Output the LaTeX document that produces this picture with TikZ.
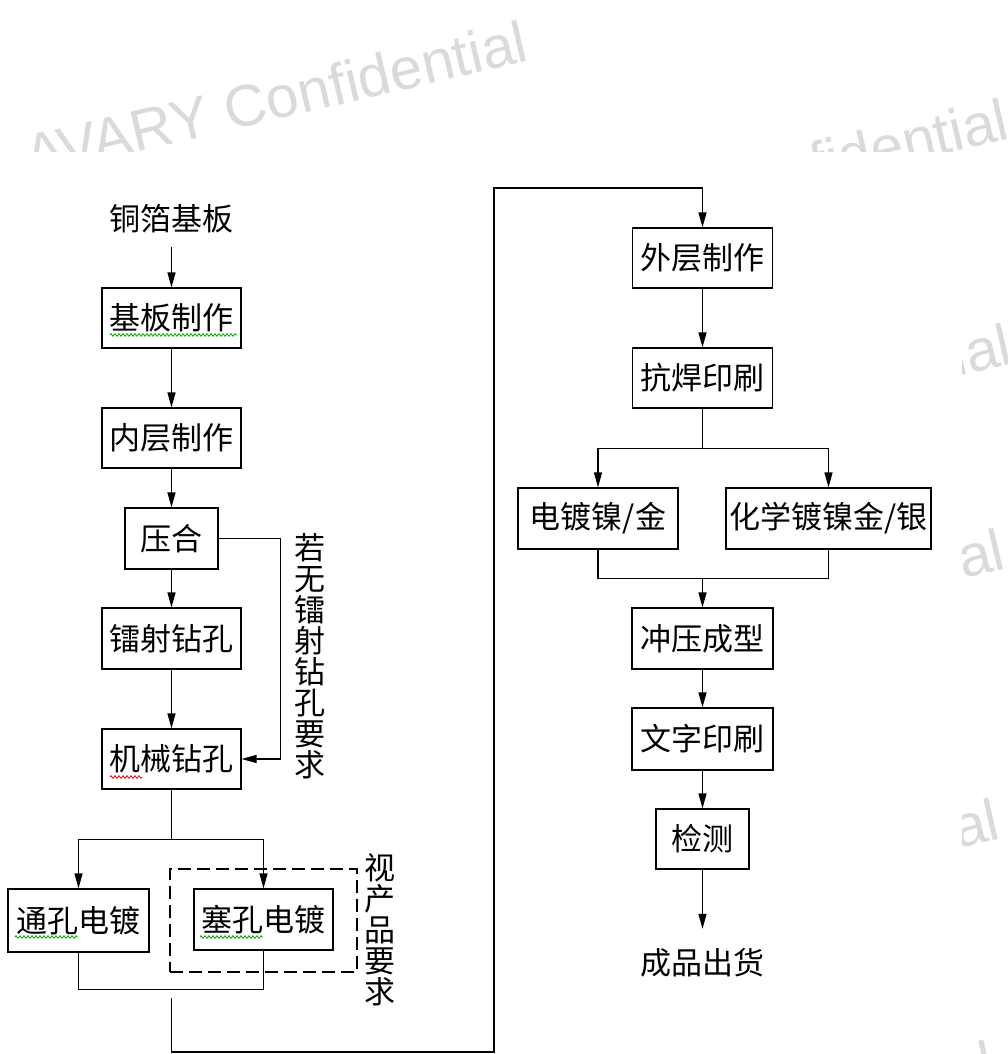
\documentclass[tikz,border=0pt]{standalone}
\usepackage{fontspec}
\newfontfamily\cjk{Noto Sans CJK SC}
\newfontfamily\wmfont{Liberation Sans}
\newcommand{\cjkfs}{\cjk\fontsize{31}{31}\selectfont}
\usetikzlibrary{arrows.meta,decorations.pathmorphing}
\definecolor{wmgray}{RGB}{218,218,218}
\definecolor{spellgreen}{RGB}{0,160,0}
\definecolor{spellred}{RGB}{230,0,0}
\begin{document}
\begin{tikzpicture}[x=1pt,y=-1pt,
  box/.style={draw, line width=1.2pt, inner sep=0pt, minimum width=139pt, minimum height=60pt, font=\cjkfs},
  arr/.style={line width=1.2pt, -{Triangle[length=15pt,width=8pt]}},
  ln/.style={line width=1.2pt},
  lbl/.style={font=\cjkfs, inner sep=0pt},
  vlbl/.style={font=\cjkfs, inner sep=0pt, align=center},
  wm/.style={font=\wmfont\fontsize{58.5}{58.5}\selectfont, text=wmgray, rotate=13.1, anchor=base west, inner sep=0pt},
  squig/.style={decorate, decoration={zigzag, segment length=4pt, amplitude=1.3pt}, line width=0.8pt}
]
\useasboundingbox (0,0) rectangle (1007,1054);
\fill[white] (0,0) rectangle (1007,1054);
% watermark
\node[wm] (w1) at (30,177) {AVARY Confidential};
\node[wm] (w2) at (511,255) {AVARY Confidential};
\node[wm] (w3) at (514,480) {AVARY Confidential};
\node[wm] (w4) at (507,685) {AVARY Confidential};
\node[wm] (w5) at (502,955) {AVARY Confidential};
\node[wm] (w6) at (497,1197) {AVARY Confidential};
\fill[white] (0,152) rectangle (962,1054);

% left column
\node[lbl, inner sep=13pt] (start) at (171.5,219) {铜箔基板};
\node[box] (b1) at (171.5,318) {基板制作};
\node[box] (b2) at (171.5,438) {内层制作};
\node[box, minimum width=93pt, minimum height=61pt] (b3) at (171.5,538.5) {压合};
\node[box, minimum height=61pt] (b4) at (171.5,638.5) {镭射钻孔};
\node[box] (b5) at (171.5,759) {机械钻孔};
\node[box, minimum width=141pt, minimum height=63pt] (b6) at (78.5,920.5) {通孔电镀};
\node[box, minimum height=61pt] (b7) at (263.5,919.5) {塞孔电镀};
\node[draw, line width=1.2pt, dash pattern=on 13pt off 6pt, minimum width=187pt, minimum height=103pt, inner sep=0pt] (grp) at (263.5,920.5) {};
\node[vlbl] (lab1) at (310,656.5) {若\\无\\镭\\射\\钻\\孔\\要\\求};
\node[vlbl] (lab2) at (380,930) {视\\产\\品\\要\\求};

% right column
\node[box, minimum width=140pt] (r1) at (702.5,258) {外层制作};
\node[box, minimum width=140pt] (r2) at (702.5,378) {抗焊印刷};
\node[box, minimum width=160pt, minimum height=61pt] (r3) at (598,518.5) {电镀镍/金};
\node[box, minimum width=205pt, minimum height=61pt] (r4) at (828.5,518.5) {化学镀镍金/银};
\node[box, minimum width=141pt, minimum height=61pt] (r5) at (702.5,638.5) {冲压成型};
\node[box, minimum width=141pt, minimum height=62pt] (r6) at (702.5,739) {文字印刷};
\node[box, minimum width=93pt] (r7) at (702.5,839) {检测};
\node[lbl, inner sep=19.5pt] (end) at (702.5,963) {成品出货};

% spell-check squiggles
\draw[squig, spellgreen] (110,335) -- (237,335);
\draw[squig, spellred] (110,777) -- (142,777);
\draw[squig, spellgreen] (15,937) -- (78,937);
\draw[squig, spellgreen] (200,937) -- (263,937);

% left connectors
\draw[arr] (start.south) -- (b1.north);
\draw[arr] (b1) -- (b2);
\draw[arr] (b2) -- (b3);
\draw[arr] (b3) -- (b4);
\draw[arr] (b4) -- (b5);
\draw[arr] (b3.east) -- ++(62,0) |- (b5.east);
\draw[ln] (b5.south) -- ++(0,50) coordinate (s1);
\draw[arr] (s1) -| (b6.north);
\draw[arr] (s1) -| (b7.north);
\draw[ln] (b6.south) -- ++(0,37) -| (b7.south);
\coordinate (m1) at (171.5,998);
\coordinate (c1) at (171.5,1052);
\coordinate (c2) at (494,188);
\draw[arr] (m1) -- (c1) -| (c2) -| (r1.north);

% right connectors
\draw[arr] (r1) -- (r2);
\draw[ln] (r2.south) -- ++(0,40) coordinate (s2);
\draw[arr] (s2) -| (r3.north);
\draw[arr] (s2) -| (r4.north);
\draw[ln] (r3.south) -- ++(0,29) coordinate (m2) -| (r4.south);
\coordinate (m3) at (702.5,578);
\draw[arr] (m3) -- (r5.north);
\draw[arr] (r5) -- (r6);
\draw[arr] (r6) -- (r7);
\draw[arr] (r7.south) -- (end.north);
\end{tikzpicture}
\end{document}
